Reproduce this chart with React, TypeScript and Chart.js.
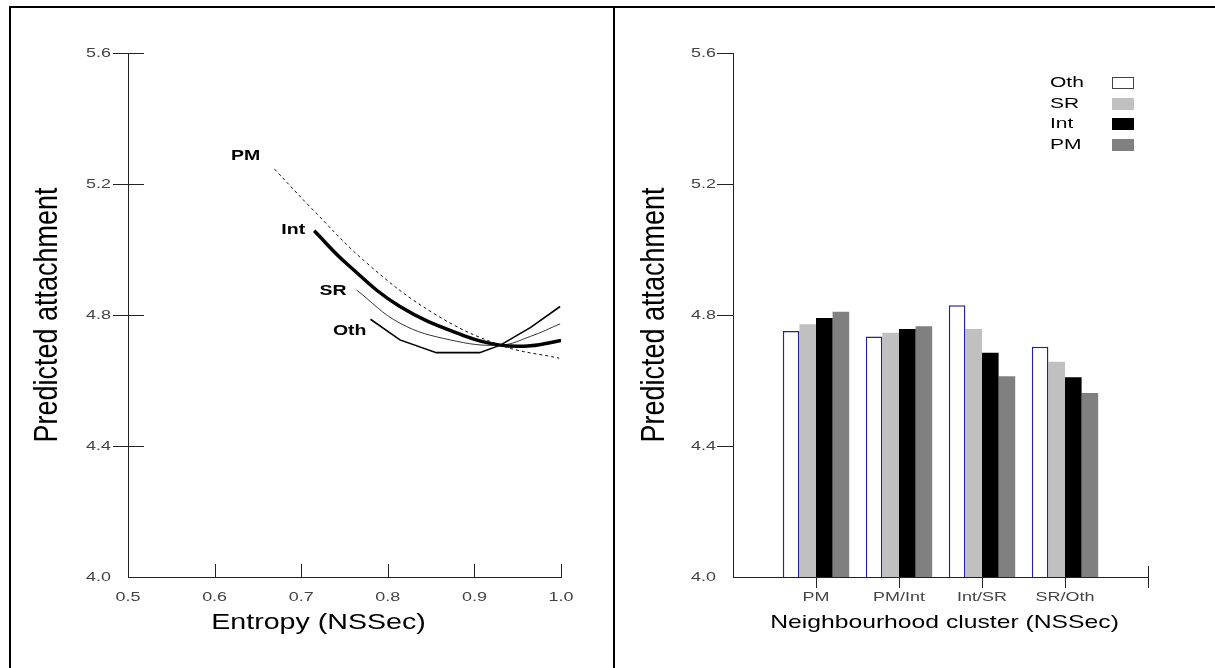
import React, { useEffect, useRef } from 'react';
import { Chart, registerables } from 'chart.js';

Chart.register(...registerables);

const FONT = 'Arial, "Liberation Sans", Helvetica, sans-serif';

// ---- Left panel: predicted attachment by entropy (NSSec) ----
const seriesNames = ['PM', 'Int', 'SR', 'Oth'];
const pmX = [0.669, 0.71, 0.776, 0.853, 0.93, 0.998];
const pmY = [5.246, 5.131, 4.958, 4.805, 4.708, 4.668];
const intX = [0.715, 0.752, 0.814, 0.891, 0.93, 0.965, 1.0];
const intY = [5.057, 4.958, 4.826, 4.734, 4.708, 4.706, 4.722];
const srX = [0.764, 0.814, 0.872, 0.93, 0.965, 0.999];
const srY = [4.876, 4.775, 4.724, 4.708, 4.735, 4.773];
const othX = [0.78, 0.814, 0.856, 0.906, 0.93, 0.965, 0.999];
const othY = [4.787, 4.724, 4.685, 4.685, 4.708, 4.762, 4.826];
const entropyTicks = [0.5, 0.6, 0.7, 0.8, 0.9, 1.0];
const attachTicks = [4.0, 4.4, 4.8, 5.2, 5.6];

// ---- Right panel: predicted attachment by neighbourhood cluster ----
const clusters = ['PM', 'PM/Int', 'Int/SR', 'SR/Oth'];
const barOth = [4.751, 4.734, 4.83, 4.703];
const barSR = [4.772, 4.746, 4.757, 4.657];
const barInt = [4.791, 4.757, 4.685, 4.61];
const barPM = [4.81, 4.766, 4.613, 4.562];

const leftTitleX = 'Entropy (NSSec)';
const rightTitleX = 'Neighbourhood cluster (NSSec)';
const titleY = 'Predicted attachment';

const SX = 1.38; // horizontal stretch of the original figure's lettering
const TICK_COLOR = '#444';

const toPts = (xs: number[], ys: number[]) => xs.map((x, i) => ({ x, y: ys[i] }));

function hline(ctx: CanvasRenderingContext2D, x1: number, x2: number, y: number) {
  ctx.beginPath();
  ctx.moveTo(x1, Math.round(y) + 0.5);
  ctx.lineTo(x2, Math.round(y) + 0.5);
  ctx.stroke();
}
function vline(ctx: CanvasRenderingContext2D, x: number, y1: number, y2: number) {
  ctx.beginPath();
  ctx.moveTo(Math.round(x) + 0.5, y1);
  ctx.lineTo(Math.round(x) + 0.5, y2);
  ctx.stroke();
}

function sText(
  ctx: CanvasRenderingContext2D,
  text: string,
  x: number,
  y: number,
  font: string,
  align: CanvasTextAlign,
  sx: number,
  color: string,
) {
  ctx.save();
  ctx.font = font;
  ctx.fillStyle = color;
  ctx.textAlign = align;
  ctx.textBaseline = 'middle';
  ctx.translate(x, y);
  ctx.scale(sx, 1);
  ctx.fillText(text, 0, 0);
  ctx.restore();
}

function drawYTitle(ctx: CanvasRenderingContext2D, cx: number, cy: number) {
  ctx.save();
  ctx.translate(cx, cy);
  ctx.scale(1.25, 1);
  ctx.rotate(-Math.PI / 2);
  ctx.font = `27px ${FONT}`;
  ctx.fillStyle = '#000';
  ctx.textAlign = 'center';
  ctx.textBaseline = 'middle';
  ctx.fillText(titleY, 0, 0);
  ctx.restore();
}

function drawYLabels(ctx: CanvasRenderingContext2D, y: any, left: number) {
  y.ticks.forEach((t: any) => {
    sText(ctx, Number(t.value).toFixed(1), left - 17, y.getPixelForValue(t.value), `13px ${FONT}`, 'right', SX, TICK_COLOR);
  });
}

const leftDecor = {
  id: 'leftDecor',
  afterDraw(chart: any) {
    const { ctx, chartArea, scales } = chart;
    const { left, right, top, bottom } = chartArea;
    const x = scales.x;
    const y = scales.y;
    ctx.save();
    ctx.strokeStyle = '#222';
    ctx.lineWidth = 1;
    vline(ctx, left, y.getPixelForValue(attachTicks[attachTicks.length - 1]), bottom + 0.5);
    hline(ctx, left, x.getPixelForValue(entropyTicks[entropyTicks.length - 1]) + 1, bottom);
    attachTicks.slice(1).forEach((v) => {
      hline(ctx, left - 15, left + 16, y.getPixelForValue(v));
    });
    entropyTicks.slice(1).forEach((v) => {
      vline(ctx, x.getPixelForValue(v), bottom - 13, bottom);
    });
    drawYLabels(ctx, y, left);
    x.ticks.forEach((t: any) => {
      sText(ctx, Number(t.value).toFixed(1), x.getPixelForValue(t.value), bottom + 20, `13px ${FONT}`, 'center', SX, TICK_COLOR);
    });
    // series labels next to each curve start
    const offsets: Record<string, [number, number]> = {
      PM: [-14, -13],
      Int: [-9, -1],
      SR: [-10, 1],
      Oth: [-4, 12],
    };
    chart.data.datasets.forEach((ds: any) => {
      const p = ds.data[0];
      const [dx, dy] = offsets[ds.label];
      sText(ctx, ds.label, x.getPixelForValue(p.x) + dx, y.getPixelForValue(p.y) + dy, `bold 15px ${FONT}`, 'right', 1.3, '#000');
    });
    // axis titles
    sText(ctx, leftTitleX, (left + right) / 2 - 26, bottom + 46, `22px ${FONT}`, 'center', 1.3, '#000');
    drawYTitle(ctx, 37, (top + bottom) / 2);
    ctx.restore();
  },
};

const rightDecor = {
  id: 'rightDecor',
  afterDraw(chart: any) {
    const { ctx, chartArea, scales } = chart;
    const { left, right, top, bottom } = chartArea;
    const x = scales.x;
    const y = scales.y;
    ctx.save();
    ctx.strokeStyle = '#222';
    ctx.lineWidth = 1;
    vline(ctx, left, y.getPixelForValue(attachTicks[attachTicks.length - 1]), bottom + 0.5);
    hline(ctx, left, right + 1, bottom);
    attachTicks.slice(1).forEach((v) => {
      hline(ctx, left - 16, left, y.getPixelForValue(v));
    });
    clusters.forEach((_, i) => {
      vline(ctx, x.getPixelForValue(i + 1), bottom, bottom + 11);
    });
    vline(ctx, right, bottom - 11, bottom + 11);
    drawYLabels(ctx, y, left);
    clusters.forEach((c, i) => {
      sText(ctx, c, x.getPixelForValue(i + 1), bottom + 20, `13px ${FONT}`, 'center', SX, TICK_COLOR);
    });
    // legend
    chart.data.datasets.forEach((ds: any, i: number) => {
      const cy = 75 + i * 20.5;
      sText(ctx, ds.label, 434, cy, `15px ${FONT}`, 'left', 1.4, '#000');
      ctx.fillStyle = ds.backgroundColor;
      ctx.fillRect(496, Math.round(cy - 6), 22, 12);
      if (ds.label === 'Oth') {
        ctx.strokeStyle = '#444';
        ctx.lineWidth = 1;
        ctx.strokeRect(496.5, Math.round(cy - 6) + 0.5, 21, 11);
      }
    });
    sText(ctx, rightTitleX, (left + right) / 2 + 4, bottom + 46, `19px ${FONT}`, 'center', 1.3, '#000');
    drawYTitle(ctx, 39, (top + bottom) / 2);
    ctx.restore();
  },
};

function yScale() {
  return {
    type: 'linear' as const,
    min: attachTicks[0],
    max: attachTicks[attachTicks.length - 1],
    afterBuildTicks: (s: any) => {
      s.ticks = attachTicks.map((v) => ({ value: v }));
    },
    afterFit: (s: any) => {
      s.width = 117;
    },
    grid: { display: false, drawTicks: false },
    border: { display: false },
    ticks: { display: false },
  };
}

function LeftChart() {
  const ref = useRef<HTMLCanvasElement>(null);
  useEffect(() => {
    const xs = [pmX, intX, srX, othX];
    const ys = [pmY, intY, srY, othY];
    const styles = [
      { borderWidth: 1, borderDash: [3, 3], borderColor: '#111', tension: 0.4 },
      { borderWidth: 3.5, borderColor: '#000', tension: 0.4 },
      { borderWidth: 1, borderColor: '#333', tension: 0.4 },
      { borderWidth: 1.6, borderColor: '#000', tension: 0 },
    ];
    const chart = new Chart(ref.current!, {
      type: 'line',
      data: {
        datasets: seriesNames.map((name, i) => ({
          label: name,
          data: toPts(xs[i], ys[i]),
          pointRadius: 0,
          fill: false,
          ...styles[i],
        })),
      },
      options: {
        animation: false,
        responsive: false,
        layout: { padding: { top: 45, right: 52, left: 0, bottom: 0 } },
        plugins: { legend: { display: false }, tooltip: { enabled: false } },
        scales: {
          x: {
            type: 'linear',
            min: entropyTicks[0],
            max: entropyTicks[entropyTicks.length - 1],
            afterBuildTicks: (s: any) => {
              s.ticks = entropyTicks.map((v) => ({ value: v }));
            },
            afterFit: (s: any) => {
              s.height = 91;
            },
            grid: { display: false, drawTicks: false },
            border: { display: false },
            ticks: { display: false },
          },
          y: yScale(),
        },
      },
      plugins: [leftDecor],
    });
    return () => chart.destroy();
  }, []);
  return (
    <canvas
      ref={ref}
      width={602}
      height={660}
      style={{ position: 'absolute', left: 11, top: 8, width: 602, height: 660 }}
    />
  );
}

function RightChart() {
  const ref = useRef<HTMLCanvasElement>(null);
  useEffect(() => {
    const labels = ['', ...clusters, ''];
    const pad = (a: number[]) => [null, ...a, null];
    const chart = new Chart(ref.current!, {
      type: 'bar',
      data: {
        labels,
        datasets: [
          { label: 'Oth', data: pad(barOth), backgroundColor: '#ffffff', borderColor: '#22229a', borderWidth: 1.5 },
          { label: 'SR', data: pad(barSR), backgroundColor: '#c0c0c0', borderWidth: 0 },
          { label: 'Int', data: pad(barInt), backgroundColor: '#000000', borderWidth: 0 },
          { label: 'PM', data: pad(barPM), backgroundColor: '#808080', borderWidth: 0 },
        ],
      },
      options: {
        animation: false,
        responsive: false,
        layout: { padding: { top: 45, right: 67, left: 0, bottom: 0 } },
        plugins: { legend: { display: false }, tooltip: { enabled: false } },
        datasets: { bar: { categoryPercentage: 0.8, barPercentage: 1 } },
        scales: {
          x: {
            type: 'category',
            offset: false,
            afterFit: (s: any) => {
              s.height = 91;
            },
            grid: { display: false, drawTicks: false },
            border: { display: false },
            ticks: { display: false, autoSkip: false },
          },
          y: yScale(),
        },
      },
      plugins: [rightDecor],
    });
    return () => chart.destroy();
  }, []);
  return (
    <canvas
      ref={ref}
      width={599}
      height={660}
      style={{ position: 'absolute', left: 616, top: 8, width: 599, height: 660 }}
    />
  );
}

export default function App() {
  return (
    <div
      style={{
        position: 'fixed',
        left: 0,
        top: 0,
        width: 1215,
        height: 668,
        background: '#fff',
        overflow: 'hidden',
      }}
    >
      <div style={{ position: 'absolute', left: 9, top: 6, width: 1206, height: 2, background: '#000' }} />
      <div style={{ position: 'absolute', left: 9, top: 6, width: 2, height: 662, background: '#000' }} />
      <div style={{ position: 'absolute', left: 613, top: 6, width: 2, height: 662, background: '#000' }} />
      <LeftChart />
      <RightChart />
    </div>
  );
}
